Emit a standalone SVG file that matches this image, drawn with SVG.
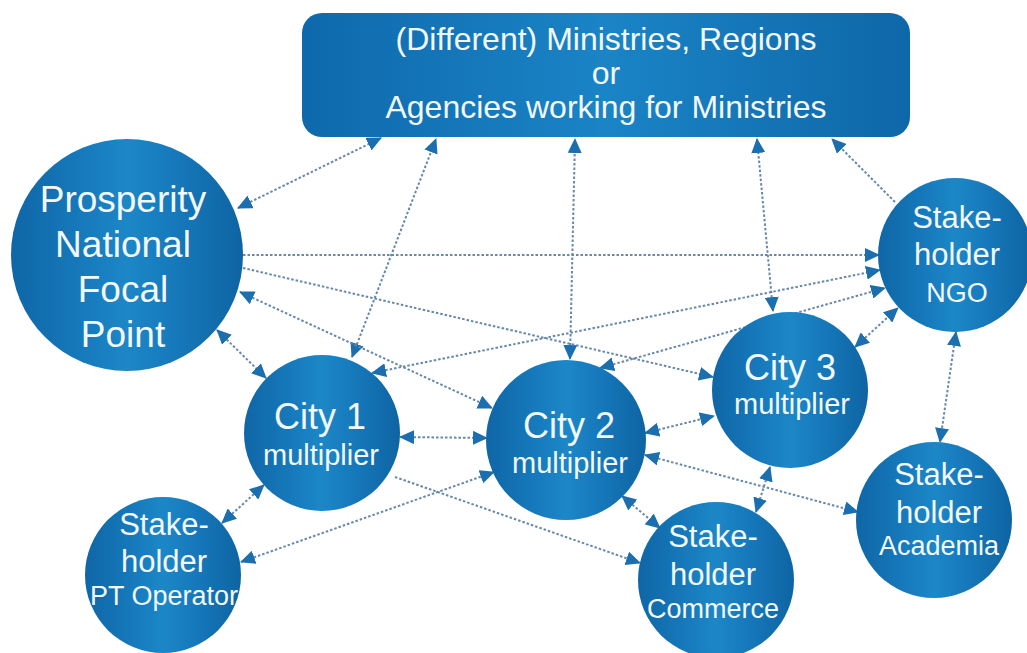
<svg xmlns="http://www.w3.org/2000/svg" width="1027" height="653" viewBox="0 0 1027 653">
  <defs>
    <linearGradient id="nodeFill" x1="0" y1="0" x2="1" y2="0">
      <stop offset="0" stop-color="#0f66a6"/>
      <stop offset="0.3" stop-color="#1679bb"/>
      <stop offset="0.5" stop-color="#1c87c7"/>
      <stop offset="0.7" stop-color="#1679bb"/>
      <stop offset="1" stop-color="#0e64a3"/>
    </linearGradient>
    <linearGradient id="boxFill" x1="0" y1="0" x2="1" y2="0">
      <stop offset="0" stop-color="#0e69ac"/>
      <stop offset="0.5" stop-color="#1a84c6"/>
      <stop offset="1" stop-color="#0e67a8"/>
    </linearGradient>
    <marker id="arrow" viewBox="0 0 15 14" refX="14" refY="7" markerWidth="15" markerHeight="14" markerUnits="userSpaceOnUse" orient="auto-start-reverse">
      <path d="M0,0 L15,7 L0,14 z" fill="#1c6fae"/>
    </marker>
    <style>
      .node { fill: url(#nodeFill); }
      .box { fill: url(#boxFill); }
      .lbl { font-family: "Liberation Sans", Arial, sans-serif; fill: #f2f8fc; text-anchor: middle; }
      .box-t { font-size: 32px; }
      .big { font-size: 37px; }
      .city { font-size: 36px; }
      .mult { font-size: 29px; }
      .sh { font-size: 31px; }
      .kind { font-size: 27px; }
      .link { fill: none; stroke: #6688aa; stroke-width: 2; stroke-dasharray: 2.5 2; }
      .both { marker-start: url(#arrow); marker-end: url(#arrow); }
      .one { marker-end: url(#arrow); }
    </style>
  </defs>

  <rect width="1027" height="653" fill="#ffffff"/>

  <!-- connectors -->
  <g id="connectors">
    <line class="link both" x1="238" y1="208" x2="381" y2="138"/>
    <line class="link both" x1="352" y1="357" x2="436" y2="139"/>
    <line class="link both" x1="570" y1="359" x2="575" y2="139"/>
    <line class="link both" x1="773" y1="311" x2="757" y2="139"/>
    <line class="link one" x1="895" y1="202" x2="832" y2="139"/>
    <line class="link one" x1="243" y1="255" x2="879" y2="255"/>
    <line class="link one" x1="243" y1="268" x2="713" y2="377"/>
    <line class="link both" x1="240" y1="292" x2="492" y2="408"/>
    <line class="link both" x1="217" y1="330" x2="266" y2="378"/>
    <line class="link both" x1="372" y1="373" x2="880" y2="270"/>
    <line class="link both" x1="600" y1="368" x2="885" y2="288"/>
    <line class="link both" x1="855" y1="347" x2="898" y2="308"/>
    <line class="link both" x1="400" y1="437" x2="487" y2="438"/>
    <line class="link one" x1="395" y1="477" x2="640" y2="563"/>
    <line class="link both" x1="241" y1="562" x2="494" y2="472"/>
    <line class="link both" x1="222" y1="523" x2="264" y2="485"/>
    <line class="link both" x1="645" y1="433" x2="714" y2="416"/>
    <line class="link both" x1="645" y1="455" x2="858" y2="512"/>
    <line class="link both" x1="622" y1="496" x2="660" y2="528"/>
    <line class="link both" x1="770" y1="467" x2="756" y2="512"/>
    <line class="link both" x1="956" y1="332" x2="940" y2="442"/>
  </g>

  <!-- top box -->
  <g id="ministries">
    <rect class="box" x="302" y="13" width="608" height="124" rx="20" ry="20"/>
    <text class="lbl box-t" x="606" y="50">(Different) Ministries, Regions</text>
    <text class="lbl box-t" x="606" y="84">or</text>
    <text class="lbl box-t" x="606" y="118">Agencies working for Ministries</text>
  </g>

  <g id="focal-point">
    <circle class="node" cx="127" cy="255" r="116"/>
    <text class="lbl big" x="123" y="212">Prosperity</text>
    <text class="lbl big" x="123" y="257">National</text>
    <text class="lbl big" x="123" y="302">Focal</text>
    <text class="lbl big" x="123" y="347">Point</text>
  </g>

  <g id="city1">
    <circle class="node" cx="322" cy="433" r="78"/>
    <text class="lbl city" x="320" y="429">City 1</text>
    <text class="lbl mult" x="321" y="465">multiplier</text>
  </g>

  <g id="city2">
    <circle class="node" cx="566" cy="440" r="80"/>
    <text class="lbl city" x="569" y="438">City 2</text>
    <text class="lbl mult" x="570" y="473">multiplier</text>
  </g>

  <g id="city3">
    <circle class="node" cx="790" cy="390" r="78"/>
    <text class="lbl city" x="790" y="380">City 3</text>
    <text class="lbl mult" x="792" y="414">multiplier</text>
  </g>

  <g id="ngo">
    <circle class="node" cx="955" cy="255" r="77"/>
    <text class="lbl sh" x="957" y="228">Stake-</text>
    <text class="lbl sh" x="957" y="265">holder</text>
    <text class="lbl kind" x="957" y="302">NGO</text>
  </g>

  <g id="academia">
    <circle class="node" cx="934" cy="520" r="78"/>
    <text class="lbl sh" x="939" y="485">Stake-</text>
    <text class="lbl sh" x="939" y="523">holder</text>
    <text class="lbl kind" x="939" y="555">Academia</text>
  </g>

  <g id="commerce">
    <circle class="node" cx="716" cy="580" r="78"/>
    <text class="lbl sh" x="713" y="547">Stake-</text>
    <text class="lbl sh" x="713" y="585">holder</text>
    <text class="lbl kind" x="713" y="618">Commerce</text>
  </g>

  <g id="pt-operator">
    <circle class="node" cx="163" cy="575" r="78"/>
    <text class="lbl sh" x="164" y="535">Stake-</text>
    <text class="lbl sh" x="164" y="572">holder</text>
    <text class="lbl kind" x="164" y="605">PT Operator</text>
  </g>
</svg>
